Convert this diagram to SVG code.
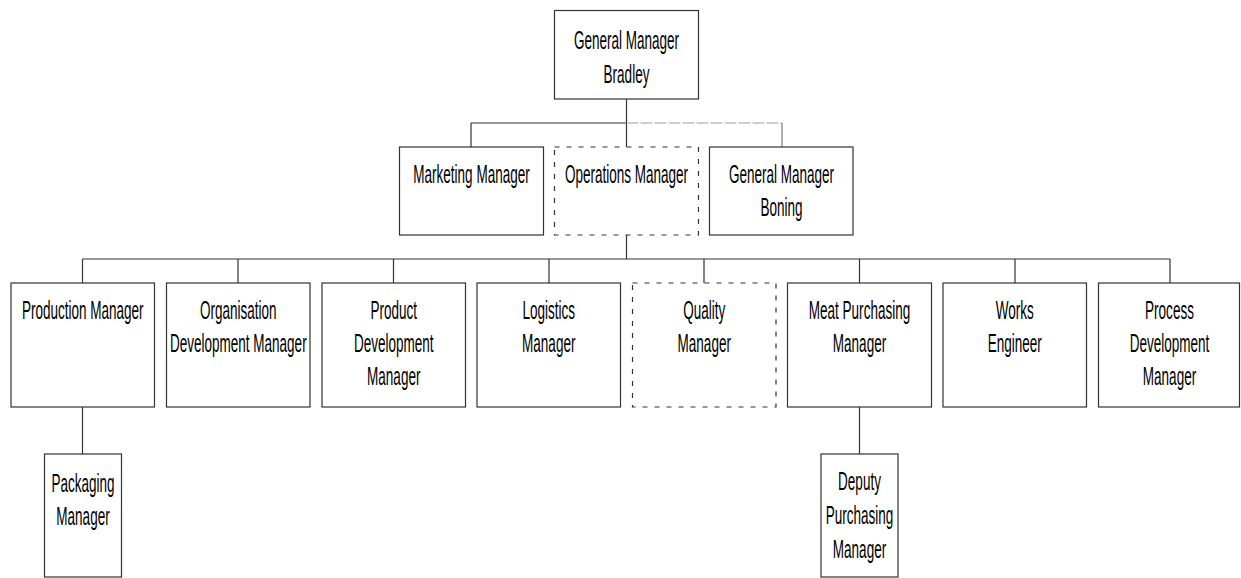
<svg xmlns="http://www.w3.org/2000/svg" width="1241" height="578" viewBox="0 0 1241 578">
  <style>
    .box { fill: #ffffff; stroke: #333333; stroke-width: 1.2; }
    .dash { fill: #ffffff; stroke: #333333; stroke-width: 1.2; stroke-dasharray: 5 7; }
    .ln { fill: none; stroke: #333333; stroke-width: 1.2; }
    .lite { fill: none; stroke: #7a7a7a; stroke-width: 1.2; }
    .litedash { fill: none; stroke: #a0a0a0; stroke-width: 1.2; stroke-dasharray: 12 2; }
    .t { font-family: "Liberation Sans", Arial, sans-serif; font-size: 26px; fill: #000000; text-anchor: middle; }
  </style>
  <rect width="1241" height="578" fill="#ffffff"/>

  <g id="connectors">
    <line class="ln" x1="626.5" y1="99" x2="626.5" y2="147"/>
    <line class="ln" x1="471" y1="123" x2="626.5" y2="123"/>
    <line class="litedash" x1="626.5" y1="123" x2="782" y2="123"/>
    <line class="ln" x1="471" y1="123" x2="471" y2="147"/>
    <line class="lite" x1="782" y1="123" x2="782" y2="147"/>

    <line class="ln" x1="626.5" y1="235" x2="626.5" y2="259"/>
    <line class="ln" x1="82.5" y1="259" x2="1170" y2="259"/>
    <line class="ln" x1="82.5" y1="259" x2="82.5" y2="283"/>
    <line class="ln" x1="238" y1="259" x2="238" y2="283"/>
    <line class="ln" x1="393.5" y1="259" x2="393.5" y2="283"/>
    <line class="ln" x1="549" y1="259" x2="549" y2="283"/>
    <line class="ln" x1="704" y1="259" x2="704" y2="283"/>
    <line class="ln" x1="859.5" y1="259" x2="859.5" y2="283"/>
    <line class="ln" x1="1015" y1="259" x2="1015" y2="283"/>
    <line class="ln" x1="1170" y1="259" x2="1170" y2="283"/>

    <line class="ln" x1="82.5" y1="407" x2="82.5" y2="454"/>
    <line class="ln" x1="859.5" y1="407" x2="859.5" y2="454"/>
  </g>

  <g id="gm-bradley">
    <rect class="box" x="554.5" y="10.5" width="144" height="88.5"/>
    <text class="t" transform="translate(626.5 0) scale(0.52 1)"><tspan x="0" y="49">General Manager</tspan><tspan x="0" y="83">Bradley</tspan></text>
  </g>

  <g id="marketing-manager">
    <rect class="box" x="399.5" y="147" width="144" height="88"/>
    <text class="t" transform="translate(471.5 0) scale(0.52 1)"><tspan x="0" y="183">Marketing Manager</tspan></text>
  </g>

  <g id="operations-manager">
    <rect class="dash" x="554.5" y="147" width="144" height="88"/>
    <text class="t" transform="translate(626.5 0) scale(0.52 1)"><tspan x="0" y="183">Operations Manager</tspan></text>
  </g>

  <g id="gm-boning">
    <rect class="box" x="709.5" y="147" width="143.5" height="88"/>
    <text class="t" transform="translate(781.5 0) scale(0.52 1)"><tspan x="0" y="183">General Manager</tspan><tspan x="0" y="216">Boning</tspan></text>
  </g>

  <g id="production-manager">
    <rect class="box" x="11" y="283" width="143.5" height="124"/>
    <text class="t" transform="translate(82.75 0) scale(0.52 1)"><tspan x="0" y="319">Production Manager</tspan></text>
  </g>

  <g id="organisation-development-manager">
    <rect class="box" x="166.5" y="283" width="143.5" height="124"/>
    <text class="t" transform="translate(238.25 0) scale(0.52 1)"><tspan x="0" y="319">Organisation</tspan><tspan x="0" y="352">Development Manager</tspan></text>
  </g>

  <g id="product-development-manager">
    <rect class="box" x="322" y="283" width="143.5" height="124"/>
    <text class="t" transform="translate(393.75 0) scale(0.52 1)"><tspan x="0" y="319">Product</tspan><tspan x="0" y="352">Development</tspan><tspan x="0" y="385">Manager</tspan></text>
  </g>

  <g id="logistics-manager">
    <rect class="box" x="477" y="283" width="143.5" height="124"/>
    <text class="t" transform="translate(548.75 0) scale(0.52 1)"><tspan x="0" y="319">Logistics</tspan><tspan x="0" y="352">Manager</tspan></text>
  </g>

  <g id="quality-manager">
    <rect class="dash" x="632.5" y="283" width="143.5" height="124"/>
    <text class="t" transform="translate(704.25 0) scale(0.52 1)"><tspan x="0" y="319">Quality</tspan><tspan x="0" y="352">Manager</tspan></text>
  </g>

  <g id="meat-purchasing-manager">
    <rect class="box" x="787.5" y="283" width="144" height="124"/>
    <text class="t" transform="translate(859.5 0) scale(0.52 1)"><tspan x="0" y="319">Meat Purchasing</tspan><tspan x="0" y="352">Manager</tspan></text>
  </g>

  <g id="works-engineer">
    <rect class="box" x="943" y="283" width="143.5" height="124"/>
    <text class="t" transform="translate(1014.75 0) scale(0.52 1)"><tspan x="0" y="319">Works</tspan><tspan x="0" y="352">Engineer</tspan></text>
  </g>

  <g id="process-development-manager">
    <rect class="box" x="1098.5" y="283" width="141" height="124"/>
    <text class="t" transform="translate(1169.5 0) scale(0.52 1)"><tspan x="0" y="319">Process</tspan><tspan x="0" y="352">Development</tspan><tspan x="0" y="385">Manager</tspan></text>
  </g>

  <g id="packaging-manager">
    <rect class="box" x="44.5" y="454" width="77" height="123"/>
    <text class="t" transform="translate(83 0) scale(0.52 1)"><tspan x="0" y="492">Packaging</tspan><tspan x="0" y="525">Manager</tspan></text>
  </g>

  <g id="deputy-purchasing-manager">
    <rect class="box" x="821" y="454" width="77" height="123"/>
    <text class="t" transform="translate(859.5 0) scale(0.52 1)"><tspan x="0" y="490">Deputy</tspan><tspan x="0" y="524">Purchasing</tspan><tspan x="0" y="558">Manager</tspan></text>
  </g>
</svg>
